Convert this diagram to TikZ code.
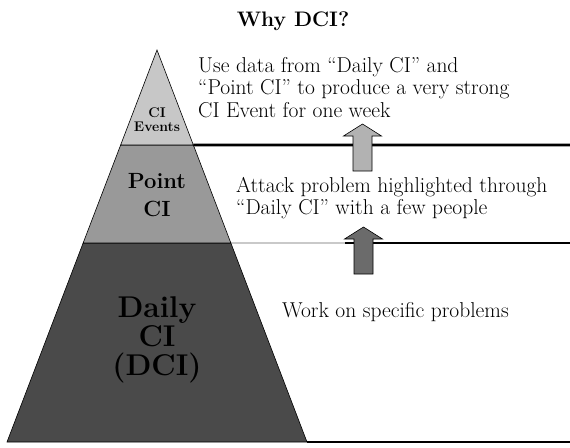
\documentclass[tikz,border=0pt]{standalone}
\usetikzlibrary{calc}

\definecolor{eventsgray}{gray}{0.78}
\definecolor{pointgray}{gray}{0.60}
\definecolor{dailygray}{gray}{0.29}

\tikzset{
  band/.style={draw=black, line width=0.6pt},
  level/.style={font=\bfseries, align=center, inner sep=0pt, anchor=north},
  note/.style={font=\fontsize{21.5}{22.5}\selectfont, align=left, inner sep=0pt, anchor=north west},
  rule/.style={line width=2.6pt},
  uparrow/.pic={
    \draw[line width=0.6pt, fill=#1] (0,0) -- (19,12) -- (9.5,12) -- (9.5,47)
      -- (-9.5,47) -- (-9.5,12) -- (-19,12) -- cycle;
  }
}

\begin{document}
\begin{tikzpicture}[x=1pt, y=-1pt]
\useasboundingbox (0,0) rectangle (570,447);

\coordinate (apex)   at (157,50);
\coordinate (base l) at (7,442);
\coordinate (base r) at (307,442);
\coordinate (ev l) at ($(apex)!0.2423!(base l)$);
\coordinate (ev r) at ($(apex)!0.2423!(base r)$);
\coordinate (pt l) at ($(apex)!0.4923!(base l)$);
\coordinate (pt r) at ($(apex)!0.4923!(base r)$);

% pyramid
\draw[band, fill=dailygray]  (pt l) -- (pt r) -- (base r) -- (base l) -- cycle;
\draw[band, fill=pointgray]  (ev l) -- (ev r) -- (pt r) -- (pt l) -- cycle;
\draw[band, fill=eventsgray] (apex) -- (ev r) -- (ev l) -- cycle;

% rules
\coordinate (ev end) at (570,145);
\coordinate (pt mid) at (345,243);
\coordinate (pt end) at (570,243);
\coordinate (dl end) at (570,442);
\draw[rule] (ev r) -- (ev end);
\draw[line width=0.8pt, black!60] (pt r) -- (pt mid);
\draw[rule] (pt mid) -- (pt end);
\draw[rule] (base r) -- (dl end);

% arrows
\pic at (362.5,124) {uparrow={black!30}};
\pic at (363.5,227) {uparrow={black!58}};

\node (title) [font=\fontsize{21}{24}\selectfont\bfseries, inner sep=0pt, anchor=north] at (293,12) {Why DCI?};

\node (events) [level, font=\fontsize{14}{14}\selectfont\bfseries] at (157,108) {CI\\Events};
\node (point)  [level, font=\fontsize{22}{28}\selectfont\bfseries] at (157,173) {Point\\CI};
\node (daily)  [level, font=\fontsize{30}{29}\selectfont\bfseries] at (157,296) {Daily\\CI\\(DCI)};

\node (use)    [note] at (198,57)  {Use data from ``Daily CI'' and\\``Point CI'' to produce a very strong\\CI Event for one week};
\node (attack) [note] at (236,177) {Attack problem highlighted through\\``Daily CI'' with a few people};
\node (work)   [note] at (282,302) {Work on specific problems};
\end{tikzpicture}
\end{document}
